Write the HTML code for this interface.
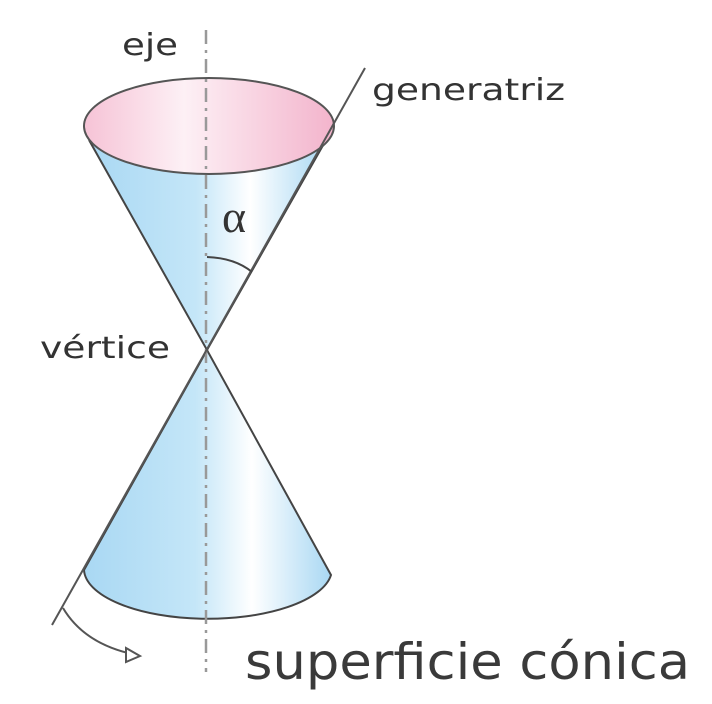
<!DOCTYPE html>
<html><head><meta charset="utf-8"><style>
html,body{margin:0;padding:0;background:#fff;width:712px;height:704px;overflow:hidden}
</style></head><body>
<svg width="712" height="704" viewBox="0 0 712 704">
<defs>
<linearGradient id="blue" x1="0" x2="1" y1="0" y2="0">
<stop offset="0" stop-color="#a9d8f3"/><stop offset="0.45" stop-color="#c4e6f8"/><stop offset="0.68" stop-color="#ffffff"/><stop offset="1" stop-color="#a9d8f3"/>
</linearGradient>
<linearGradient id="pink" x1="0" x2="1" y1="0" y2="0">
<stop offset="0" stop-color="#f6c3d6"/><stop offset="0.4" stop-color="#fdf0f5"/><stop offset="1" stop-color="#f3b4cc"/>
</linearGradient>
</defs>
<path d="M89,140 L207,350 L326,140 Z" fill="url(#blue)"/>
<path d="M89,140 L207,350 L326,140" fill="none" stroke="#444" stroke-width="2"/>
<ellipse cx="209" cy="126" rx="125" ry="48" fill="url(#pink)" stroke="#555" stroke-width="2"/>
<path d="M207,350 L84,570 A124,50 0 0 0 331,575 Z" fill="url(#blue)" stroke="#444" stroke-width="2"/>
<line x1="206" y1="30" x2="206" y2="672" stroke="#999" stroke-width="2.5" stroke-dasharray="14,6,3,6"/>
<line x1="365" y1="68" x2="52" y2="625" stroke="#555" stroke-width="2"/>
<path d="M207,257 Q235,258 252,272" fill="none" stroke="#444" stroke-width="2"/>
<path d="M63,608 Q85,645 137,655" fill="none" stroke="#555" stroke-width="2"/>
<path d="M126,648 L140,656 L126,662 Z" fill="#fff" stroke="#555" stroke-width="2"/>
<g font-family="DejaVu Sans, Liberation Sans, sans-serif" fill="#333">
<text x="122" y="55" font-size="30" textLength="56" lengthAdjust="spacingAndGlyphs">eje</text>
<text x="372" y="100" font-size="30" textLength="193" lengthAdjust="spacingAndGlyphs">generatriz</text>
<text x="40" y="358" font-size="30" textLength="130" lengthAdjust="spacingAndGlyphs">vértice</text>
<text x="245" y="679" font-size="50" fill="#3a3a3a" textLength="445" lengthAdjust="spacingAndGlyphs">superficie cónica</text>
</g>
<text x="222" y="232" font-size="46" font-family="Liberation Serif, serif" fill="#333">α</text>
</svg>
</body></html>
